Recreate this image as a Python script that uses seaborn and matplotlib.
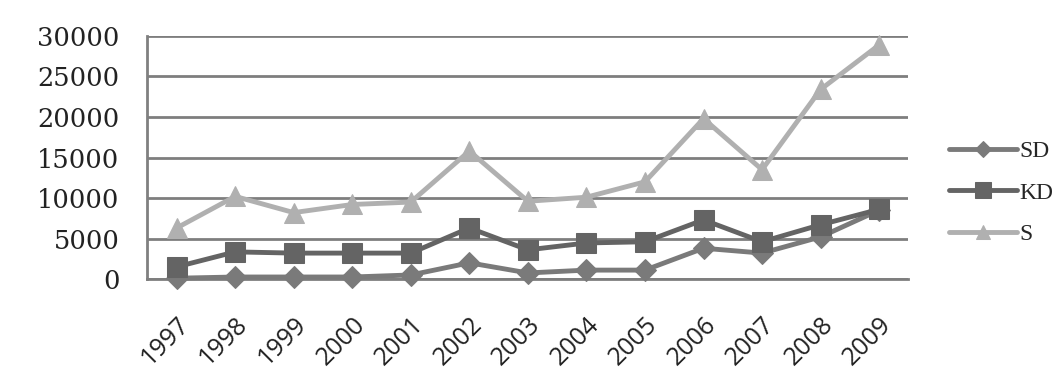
import matplotlib
matplotlib.use("Agg")
import matplotlib.pyplot as plt
import pandas as pd
import seaborn as sns
from matplotlib.ticker import FixedLocator

years = ["1997", "1998", "1999", "2000", "2001", "2002", "2003",
         "2004", "2005", "2006", "2007", "2008", "2009"]
sd = [100, 250, 250, 250, 500, 2000, 750, 1100, 1100, 3800, 3200, 5200, 8500]
kd = [1500, 3350, 3200, 3200, 3200, 6300, 3600, 4450, 4600, 7300, 4600, 6700, 8600]
s = [6300, 10200, 8200, 9200, 9500, 15800, 9600, 10100, 12000, 19800, 13500, 23400, 28900]
yticks = [0, 5000, 10000, 15000, 20000, 25000, 30000]

series = {"SD": sd, "KD": kd, "S": s}
styles = {
    "SD": dict(color="#7a7a7a", marker="D", markersize=11),
    "KD": dict(color="#646464", marker="s", markersize=15),
    "S": dict(color="#b0b0b0", marker="^", markersize=14),
}

rows = []
for name, vals in series.items():
    for i, v in enumerate(vals):
        rows.append({"idx": i, "value": v, "series": name})
df = pd.DataFrame(rows)

sns.set_style("white")
fig = plt.figure(figsize=(10.6, 3.87), dpi=100)
ax = fig.add_axes([0.139, 0.279, 0.718, 0.628])

for name in series:
    st = styles[name]
    sns.lineplot(data=df[df["series"] == name], x="idx", y="value", ax=ax,
                 color=st["color"], linewidth=3.5, marker=st["marker"],
                 markersize=st["markersize"], markeredgecolor=st["color"],
                 label=name, clip_on=False, zorder=3)

ax.set_xlim(-0.5, len(years) - 0.5)
ax.set_ylim(0, 30000)
ax.set_yticks(yticks)
ax.set_yticklabels([str(t) for t in yticks], family="DejaVu Serif", fontsize=18.5)
ax.set_xticks(range(len(years)))
ax.set_xticklabels(years, rotation=45, ha="right", rotation_mode="anchor",
                   family="Open Sans", fontsize=18, color="#222222")
ax.xaxis.set_minor_locator(FixedLocator([i - 0.5 for i in range(len(years) + 1)]))
ax.tick_params(axis="x", which="major", length=0, pad=24)
ax.tick_params(axis="x", which="minor", length=5, color="#777777", width=1.2, direction="out")
ax.tick_params(axis="y", length=8, color="#777777", width=1.5, pad=12, labelcolor="#222222")
ax.set_xlabel("")
ax.set_ylabel("")

ax.grid(axis="y", color="#7e7e7e", linewidth=2, zorder=0)
ax.set_axisbelow(True)
for side in ["top", "right"]:
    ax.spines[side].set_visible(False)
ax.spines["left"].set_color("#808080")
ax.spines["left"].set_linewidth(2)
ax.spines["bottom"].set_color("#7e7e7e")
ax.spines["bottom"].set_linewidth(2)

ax.legend(loc="center left", bbox_to_anchor=(1.025, 0.355), frameon=False,
          prop={"family": "Liberation Serif", "size": 17}, handlelength=2.9,
          handletextpad=0.1, labelspacing=0.85, markerscale=0.75)

fig.savefig("out.png", dpi=100, facecolor="white")
